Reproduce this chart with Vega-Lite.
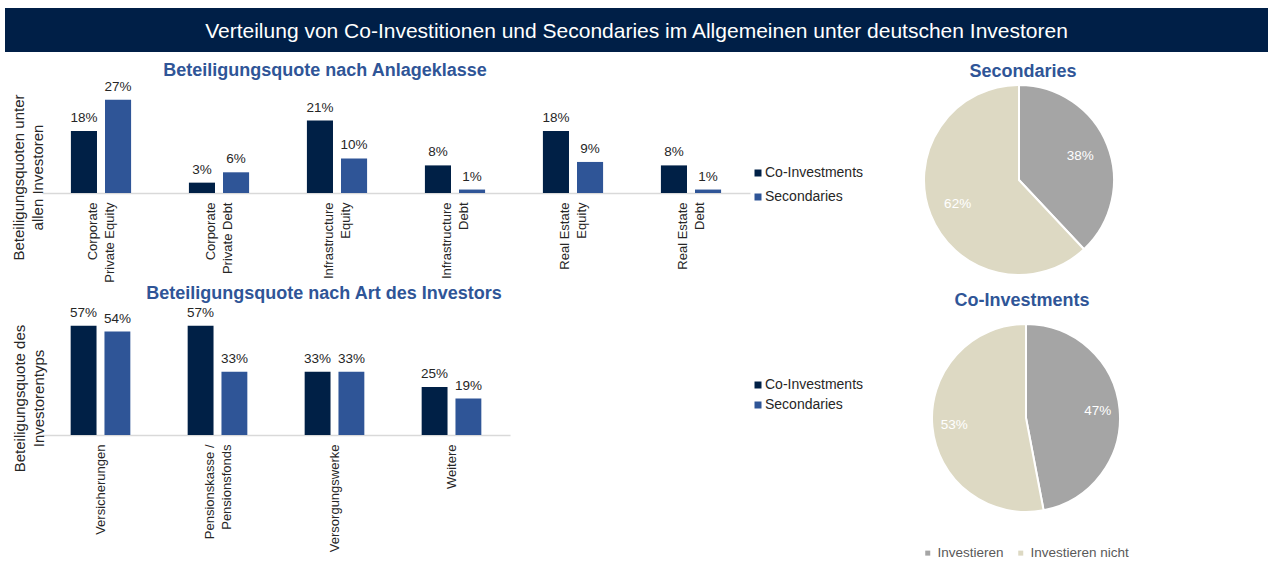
{
  "$schema": "https://vega.github.io/schema/vega-lite/v6.json",
  "padding": {"left": 5, "top": 8, "right": 0, "bottom": 0},
  "background": "white",
  "config": {
    "view": {"stroke": null},
    "font": "Liberation Sans",
    "text": {"font": "Liberation Sans"},
    "title": {"font": "Liberation Sans"},
    "axis": {"labelFont": "Liberation Sans", "titleFont": "Liberation Sans"},
    "legend": {"labelFont": "Liberation Sans"}
  },
  "bounds": "flush",
  "spacing": 33,
  "resolve": {"scale": {"color": "independent"}, "legend": {"color": "independent"}},
  "vconcat": [
    {
      "width": 1263,
      "height": 44,
      "view": {"fill": "#001F47", "stroke": null},
      "data": {"values": [{"titel": "Verteilung von Co-Investitionen und Secondaries im Allgemeinen unter deutschen Investoren"}]},
      "mark": {"type": "text", "color": "white", "fontSize": 21, "dy": 2, "align": "center", "baseline": "middle"},
      "encoding": {"text": {"field": "titel"}}
    },
    {
      "hconcat": [
        {
          "hconcat": [
            {"width": 37, "height": 10, "data": {"values": []}, "mark": "point"},
            {
              "vconcat": [
                {
                  "width": 708,
                  "height": 108,
                  "title": {"text": "Beteiligungsquote nach Anlageklasse", "fontSize": 18, "fontWeight": "bold", "color": "#2F5597", "anchor": "middle", "dx": -71, "offset": -14, "baseline": "alphabetic"},
                  "data": {"values": [
                    {"Anlageklasse": "Corporate Private Equity", "Typ": "Co-Investments", "Quote": 0.18},
                    {"Anlageklasse": "Corporate Private Equity", "Typ": "Secondaries", "Quote": 0.27},
                    {"Anlageklasse": "Corporate Private Debt", "Typ": "Co-Investments", "Quote": 0.03},
                    {"Anlageklasse": "Corporate Private Debt", "Typ": "Secondaries", "Quote": 0.06},
                    {"Anlageklasse": "Infrastructure Equity", "Typ": "Co-Investments", "Quote": 0.21},
                    {"Anlageklasse": "Infrastructure Equity", "Typ": "Secondaries", "Quote": 0.10},
                    {"Anlageklasse": "Infrastructure Debt", "Typ": "Co-Investments", "Quote": 0.08},
                    {"Anlageklasse": "Infrastructure Debt", "Typ": "Secondaries", "Quote": 0.01},
                    {"Anlageklasse": "Real Estate Equity", "Typ": "Co-Investments", "Quote": 0.18},
                    {"Anlageklasse": "Real Estate Equity", "Typ": "Secondaries", "Quote": 0.09},
                    {"Anlageklasse": "Real Estate Debt", "Typ": "Co-Investments", "Quote": 0.08},
                    {"Anlageklasse": "Real Estate Debt", "Typ": "Secondaries", "Quote": 0.01}
                  ]},
                  "encoding": {
                    "x": {
                      "field": "Anlageklasse", "type": "nominal", "sort": null,
                      "scale": {"paddingInner": 0.49, "paddingOuter": 0.245},
                      "axis": {
                        "title": null, "labelAngle": -90, "labelAlign": "right", "labelBaseline": "middle",
                        "labelPadding": 9, "labelOffset": -8, "ticks": false, "domainColor": "#D9D9D9", "domainWidth": 1.5,
                        "labelFontSize": 13, "labelColor": "#262626", "labelLineHeight": 17,
                        "labelExpr": "datum.value == 'Corporate Private Equity' ? ['Corporate', 'Private Equity'] : datum.value == 'Corporate Private Debt' ? ['Corporate', 'Private Debt'] : datum.value == 'Infrastructure Equity' ? ['Infrastructure', 'Equity'] : datum.value == 'Infrastructure Debt' ? ['Infrastructure', 'Debt'] : datum.value == 'Real Estate Equity' ? ['Real Estate', 'Equity'] : datum.value == 'Real Estate Debt' ? ['Real Estate', 'Debt'] : datum.value"
                      }
                    },
                    "xOffset": {"field": "Typ", "type": "nominal", "sort": null, "scale": {"paddingInner": 0.235, "paddingOuter": 0}},
                    "y": {
                      "field": "Quote", "type": "quantitative",
                      "scale": {"domain": [0, 0.313], "nice": false},
                      "axis": {
                        "title": ["Beteiligungsquoten unter", "allen Investoren"],
                        "labels": false, "ticks": false, "domain": false, "grid": false,
                        "titleFontSize": 15, "titleFontWeight": "normal", "titleColor": "#262626",
                        "titleX": -24, "titleY": 92, "titleAngle": -90, "titleAlign": "center",
                        "titleBaseline": "middle", "titleLineHeight": 19
                      }
                    }
                  },
                  "layer": [
                    {
                      "mark": {"type": "bar"},
                      "encoding": {
                        "color": {
                          "field": "Typ", "type": "nominal",
                          "scale": {"domain": ["Co-Investments", "Secondaries"], "range": ["#002046", "#2F5597"]},
                          "legend": {
                            "orient": "none", "legendX": 709, "legendY": 81, "title": null,
                            "symbolType": "square", "symbolSize": 49, "symbolStrokeWidth": 0,
                            "labelFontSize": 14, "labelColor": "#262626", "rowPadding": 10,
                            "padding": 0, "labelOffset": 0
                          }
                        }
                      }
                    },
                    {
                      "mark": {"type": "text", "dy": -9, "baseline": "alphabetic", "fontSize": 13.5, "color": "#262626"},
                      "encoding": {"text": {"field": "Quote", "type": "quantitative", "format": ".0%"}}
                    }
                  ]
                },
                {
                  "width": 468,
                  "height": 115,
                  "title": {"text": "Beteiligungsquote nach Art des Investors", "fontSize": 18, "fontWeight": "bold", "color": "#2F5597", "anchor": "middle", "dx": 48, "offset": -11, "baseline": "alphabetic"},
                  "data": {"values": [
                    {"Investor": "Versicherungen", "Typ": "Co-Investments", "Quote": 0.57},
                    {"Investor": "Versicherungen", "Typ": "Secondaries", "Quote": 0.54},
                    {"Investor": "Pensionskasse / Pensionsfonds", "Typ": "Co-Investments", "Quote": 0.57},
                    {"Investor": "Pensionskasse / Pensionsfonds", "Typ": "Secondaries", "Quote": 0.33},
                    {"Investor": "Versorgungswerke", "Typ": "Co-Investments", "Quote": 0.33},
                    {"Investor": "Versorgungswerke", "Typ": "Secondaries", "Quote": 0.33},
                    {"Investor": "Weitere", "Typ": "Co-Investments", "Quote": 0.25},
                    {"Investor": "Weitere", "Typ": "Secondaries", "Quote": 0.19}
                  ]},
                  "encoding": {
                    "x": {
                      "field": "Investor", "type": "nominal", "sort": null,
                      "scale": {"paddingInner": 0.49, "paddingOuter": 0.245},
                      "axis": {
                        "title": null, "labelAngle": -90, "labelAlign": "right", "labelBaseline": "middle",
                        "labelPadding": 9,
                        "labelOffset": {"condition": {"test": "datum.value == 'Pensionskasse / Pensionsfonds'", "value": -8}, "value": 0},
                        "ticks": false, "domainColor": "#D9D9D9", "domainWidth": 1.5,
                        "labelFontSize": 13, "labelColor": "#262626", "labelLineHeight": 17,
                        "labelExpr": "datum.value == 'Pensionskasse / Pensionsfonds' ? ['Pensionskasse /', 'Pensionsfonds'] : datum.value"
                      }
                    },
                    "xOffset": {"field": "Typ", "type": "nominal", "sort": null, "scale": {"paddingInner": 0.235, "paddingOuter": 0}},
                    "y": {
                      "field": "Quote", "type": "quantitative",
                      "scale": {"domain": [0, 0.6], "nice": false},
                      "axis": {
                        "title": ["Beteiligungsquote des", "Investorentyps"],
                        "labels": false, "ticks": false, "domain": false, "grid": false,
                        "titleFontSize": 15, "titleFontWeight": "normal", "titleColor": "#262626",
                        "titleX": -23, "titleY": 78, "titleAngle": -90, "titleAlign": "center",
                        "titleBaseline": "middle", "titleLineHeight": 19
                      }
                    }
                  },
                  "layer": [
                    {
                      "mark": {"type": "bar"},
                      "encoding": {
                        "color": {
                          "field": "Typ", "type": "nominal",
                          "scale": {"domain": ["Co-Investments", "Secondaries"], "range": ["#002046", "#2F5597"]},
                          "legend": {
                            "orient": "none", "legendX": 709, "legendY": 58, "title": null,
                            "symbolType": "square", "symbolSize": 49, "symbolStrokeWidth": 0,
                            "labelFontSize": 14, "labelColor": "#262626", "rowPadding": 6,
                            "padding": 0, "labelOffset": 0
                          }
                        }
                      }
                    },
                    {
                      "mark": {"type": "text", "dy": -9, "baseline": "alphabetic", "fontSize": 13.5, "color": "#262626"},
                      "encoding": {"text": {"field": "Quote", "type": "quantitative", "format": ".0%"}}
                    }
                  ]
                }
              ],
              "spacing": 127,
              "bounds": "flush",
              "resolve": {
                "scale": {"color": "independent", "x": "independent", "y": "independent", "xOffset": "independent"},
                "legend": {"color": "independent"}
              }
            }
          ],
          "spacing": 0,
          "bounds": "flush"
        },
        {
          "vconcat": [
            {
              "width": 190,
              "height": 190,
              "title": {"text": "Secondaries", "fontSize": 18, "fontWeight": "bold", "color": "#2F5597", "anchor": "middle", "dx": 4, "offset": -14, "baseline": "alphabetic"},
              "data": {"values": [
                {"Kategorie": "Investieren", "Anteil": 0.38},
                {"Kategorie": "Investieren nicht", "Anteil": 0.62}
              ]},
              "encoding": {"theta": {"field": "Anteil", "type": "quantitative", "stack": true}},
              "layer": [
                {
                  "mark": {"type": "arc", "outerRadius": 95, "stroke": "white", "strokeWidth": 2},
                  "encoding": {
                    "color": {
                      "field": "Kategorie", "type": "nominal",
                      "scale": {"domain": ["Investieren", "Investieren nicht"], "range": ["#A5A5A5", "#DDD9C3"]},
                      "legend": null
                    }
                  }
                },
                {
                  "mark": {"type": "text", "radius": 66, "color": "white", "fontSize": 13.5},
                  "encoding": {
                    "detail": {"field": "Kategorie", "type": "nominal"},
                    "text": {"field": "Anteil", "type": "quantitative", "format": ".0%"}
                  }
                }
              ]
            },
            {
              "width": 204,
              "height": 188,
              "title": {"text": "Co-Investments", "fontSize": 18, "fontWeight": "bold", "color": "#2F5597", "anchor": "middle", "dx": -4, "offset": -4, "baseline": "alphabetic"},
              "data": {"values": [
                {"Kategorie": "Investieren", "Anteil": 0.47},
                {"Kategorie": "Investieren nicht", "Anteil": 0.53}
              ]},
              "encoding": {"theta": {"field": "Anteil", "type": "quantitative", "stack": true}},
              "layer": [
                {
                  "mark": {"type": "arc", "outerRadius": 94, "stroke": "white", "strokeWidth": 2},
                  "encoding": {
                    "color": {
                      "field": "Kategorie", "type": "nominal",
                      "scale": {"domain": ["Investieren", "Investieren nicht"], "range": ["#A5A5A5", "#DDD9C3"]},
                      "legend": {
                        "orient": "none", "legendX": -3, "legendY": 222, "direction": "horizontal", "title": null,
                        "symbolType": "square", "symbolSize": 25, "symbolStrokeWidth": 0,
                        "labelFontSize": 13.5, "labelColor": "#595959", "columnPadding": 10,
                        "labelOffset": 3, "padding": 0
                      }
                    }
                  }
                },
                {
                  "mark": {"type": "text", "radius": 72, "color": "white", "fontSize": 13.5},
                  "encoding": {
                    "detail": {"field": "Kategorie", "type": "nominal"},
                    "text": {"field": "Anteil", "type": "quantitative", "format": ".0%"}
                  }
                }
              ]
            }
          ],
          "spacing": 49,
          "bounds": "flush",
          "resolve": {"scale": {"color": "independent"}, "legend": {"color": "independent"}}
        }
      ],
      "spacing": 919,
      "bounds": "flush",
      "resolve": {"scale": {"color": "independent"}, "legend": {"color": "independent"}}
    }
  ]
}
